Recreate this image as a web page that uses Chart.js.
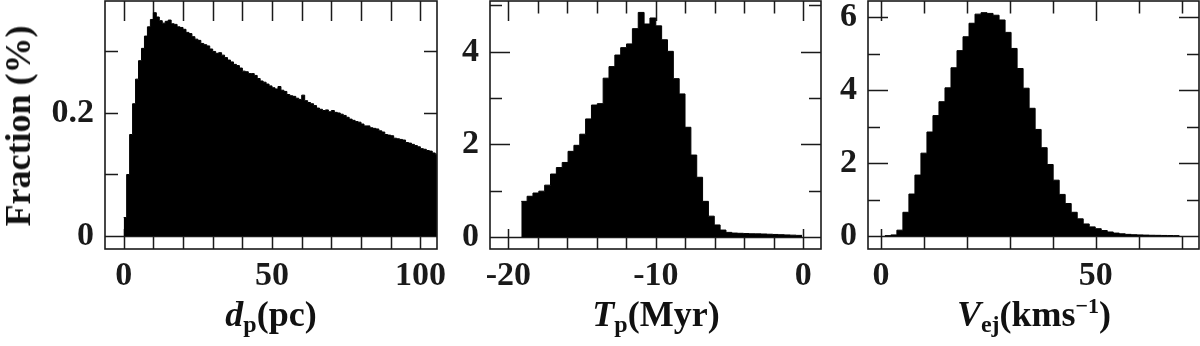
<!DOCTYPE html>
<html>
<head>
<meta charset="utf-8">
<title>Fraction histograms</title>
<script src="https://cdn.jsdelivr.net/npm/chart.js@4.4.0/dist/chart.umd.min.js"></script>
<style>
    html, body { margin: 0; padding: 0; background: #fff; }
    #wrap { position: relative; width: 1200px; height: 346px; overflow: hidden; }
    #wrap canvas { position: absolute; left: 0; top: 0; }
    .lbl {
        position: absolute;
        font-family: 'Liberation Serif', 'Times New Roman', serif;
        font-weight: bold;
        font-size: 36px;
        line-height: 36px;
        white-space: nowrap;
        color: #111;
    }
    .xl { top: 296px; transform: translateX(-50%); }
    .sub { font-size: 24px; position: relative; top: 6px; }
    .sup { font-size: 22px; position: relative; top: -13px; }
</style>
</head>
<body>
<div id="wrap">
    <canvas id="c1" width="1200" height="346"></canvas>
    <canvas id="c2" width="1200" height="346"></canvas>
    <canvas id="c3" width="1200" height="346"></canvas>
    <div class="lbl" id="ylab" style="left:18px;top:126px;transform:translate(-50%,-50%) rotate(-90deg);">Fraction (%)</div>
    <div class="lbl xl" style="left:271px;"><i>d</i><span class="sub">p</span>(pc)</div>
    <div class="lbl xl" style="left:656px;"><i>T</i><span class="sub">p</span>(Myr)</div>
    <div class="lbl xl" style="left:1034px;"><i>V</i><span class="sub">ej</span>(kms<span class="sup">&minus;1</span>)</div>
</div>
<script>
// ---- data ----

// panel 1: distance d_p, 1 pc bins starting at 0
const dpBinStart = 0;
const dpBinWidth = 1;
const dpFraction = [
    0.030, 0.100, 0.165, 0.215, 0.255, 0.285, 0.305, 0.325, 0.340, 0.352,
    0.363, 0.356, 0.350, 0.346, 0.349, 0.351, 0.345, 0.344, 0.340, 0.339,
    0.336, 0.331, 0.329, 0.324, 0.320, 0.318, 0.313, 0.311, 0.309, 0.304,
    0.300, 0.297, 0.298, 0.294, 0.290, 0.286, 0.283, 0.279, 0.277, 0.273,
    0.268, 0.267, 0.264, 0.264, 0.261, 0.256, 0.252, 0.250, 0.247, 0.244,
    0.241, 0.239, 0.243, 0.237, 0.235, 0.230, 0.228, 0.227, 0.224, 0.222,
    0.229, 0.220, 0.217, 0.215, 0.212, 0.208, 0.206, 0.204, 0.205, 0.202,
    0.204, 0.201, 0.200, 0.198, 0.196, 0.193, 0.190, 0.188, 0.186, 0.185,
    0.182, 0.179, 0.179, 0.176, 0.175, 0.174, 0.171, 0.169, 0.165, 0.164,
    0.163, 0.159, 0.158, 0.157, 0.156, 0.152, 0.151, 0.149, 0.147, 0.145,
    0.142, 0.141, 0.139, 0.138, 0.135, 0.133
];
const dpTickLabels = [0, 50, 100];
const dpTicks = [0, 10, 20, 30, 40, 50, 60, 70, 80, 90, 100];
const dpYTickLabels = [0, 0.2];
const dpYTicks = [0, 0.1, 0.2, 0.3];

// panel 2: time T_p (Myr)
const tpBinStart = -19.12;
const tpBinWidth = 0.3965;
const tpFraction = [
    0.77, 0.88, 0.95, 0.99, 1.12, 1.36, 1.50, 1.61, 1.85, 1.98,
    2.22, 2.55, 2.85, 2.88, 3.43, 3.68, 3.93, 4.09, 4.17, 4.50,
    4.85, 4.60, 4.73, 4.56, 4.26, 4.01, 3.42, 3.09, 2.37, 1.77,
    1.29, 0.77, 0.45, 0.26, 0.15, 0.10, 0.085, 0.08, 0.075, 0.07,
    0.068, 0.065, 0.06, 0.055, 0.05, 0.045, 0.04, 0.035
];
const tpTickLabels = [-20, -10, 0];
const tpTicks = [-20, -18, -16, -14, -12, -10, -8, -6, -4, -2, 0];
const tpYTickLabels = [0, 2, 4];
const tpYTicks = [0, 1, 2, 3, 4, 5];

// panel 3: ejection velocity V_ej (km/s)
const vejBinStart = 0.9;
const vejBinWidth = 1.4;
const vejFraction = [
    0.01, 0.03, 0.16, 0.65, 1.15, 1.67, 2.27, 2.85, 3.30, 3.68,
    4.06, 4.61, 5.08, 5.46, 5.83, 6.08, 6.12, 6.10, 6.05, 5.92,
    5.58, 5.14, 4.59, 4.05, 3.50, 2.92, 2.42, 1.96, 1.53, 1.14,
    0.89, 0.65, 0.47, 0.33, 0.25, 0.20, 0.15, 0.11, 0.08, 0.06,
    0.045, 0.035, 0.03, 0.025, 0.02, 0.018, 0.015, 0.012, 0.01
];
const vejTickLabels = [0, 50];
const vejTicks = [0, 10, 20, 30, 40, 50, 60, 70];
const vejYTickLabels = [0, 2, 4, 6];
const vejYTicks = [0, 1, 2, 3, 4, 5, 6];

// ---- drawing ----

const INK = '#1a1a1a';
const tickFont = { family: "'Liberation Serif', 'Times New Roman', serif", size: 34, weight: 'bold' };

// turns bin values into step points (last value repeated at the closing edge)
function histPoints(start, width, values) {
    const pts = values.map((v, i) => ({ x: start + i * width, y: v }));
    pts.push({ x: start + values.length * width, y: values[values.length - 1] });
    return pts;
}

// inward ticks on all four sides, zero line, and the box frame
const frameTicks = {
    id: 'frameTicks',
    beforeDatasetsDraw(chart, args, opts) {
        const { ctx, chartArea: a, scales: { x, y } } = chart;
        ctx.save();
        ctx.strokeStyle = INK;
        ctx.lineWidth = 1.5;
        ctx.beginPath();
        opts.xTicks.forEach(v => {
            const px = Math.round(x.getPixelForValue(v)) + 0.5;
            const len = opts.xMajor.includes(v) ? opts.xMajorLen : opts.xMinorLen;
            ctx.moveTo(px, a.top); ctx.lineTo(px, a.top + len);
            ctx.moveTo(px, a.bottom); ctx.lineTo(px, a.bottom - len);
        });
        opts.yTicks.forEach(v => {
            const py = Math.round(y.getPixelForValue(v)) + 0.5;
            const len = opts.yMajor.includes(v) ? opts.yMajorLen : opts.yMinorLen;
            ctx.moveTo(a.left, py); ctx.lineTo(a.left + len, py);
            ctx.moveTo(a.right, py); ctx.lineTo(a.right - len, py);
        });
        const y0 = Math.round(y.getPixelForValue(0)) + 0.5;
        ctx.moveTo(a.left, y0); ctx.lineTo(a.right, y0);
        ctx.stroke();
        ctx.restore();
    },
    afterDatasetsDraw(chart) {
        const { ctx, chartArea: a } = chart;
        ctx.save();
        ctx.strokeStyle = INK;
        ctx.lineWidth = 1.6;
        ctx.strokeRect(a.left, a.top, a.right - a.left, a.bottom - a.top);
        ctx.restore();
    }
};

function makePanel(id, p) {
    return new Chart(document.getElementById(id), {
        type: 'line',
        data: {
            datasets: [{
                data: histPoints(p.binStart, p.binWidth, p.values),
                stepped: 'before',
                fill: 'origin',
                backgroundColor: '#000',
                borderColor: '#000',
                borderWidth: 1,
                pointRadius: 0,
                tension: 0
            }]
        },
        options: {
            responsive: false,
            animation: false,
            events: [],
            layout: {
                autoPadding: false,
                padding: { left: p.left - 100, right: 1200 - p.right, top: 1, bottom: 0 }
            },
            plugins: {
                legend: { display: false },
                tooltip: { enabled: false },
                frameTicks: {
                    xTicks: p.xTicks, xMajor: p.xLabels, xMajorLen: p.xMajorLen, xMinorLen: p.xMinorLen,
                    yTicks: p.yTicks, yMajor: p.yLabels, yMajorLen: p.yMajorLen, yMinorLen: p.yMinorLen
                }
            },
            scales: {
                x: {
                    type: 'linear',
                    min: p.xMin, max: p.xMax,
                    grid: { display: false, drawTicks: false },
                    border: { display: false },
                    ticks: {
                        font: tickFont, color: INK, padding: 7,
                        maxRotation: 0, autoSkip: false, includeBounds: false,
                        callback: v => String(v)
                    },
                    afterBuildTicks: s => { s.ticks = p.xLabels.map(v => ({ value: v })); },
                    afterFit: s => { s.height = 97; s.paddingLeft = 0; s.paddingRight = 0; }
                },
                y: {
                    type: 'linear',
                    min: p.yMin, max: p.yMax,
                    grid: { display: false, drawTicks: false },
                    border: { display: false },
                    ticks: {
                        font: tickFont, color: INK, padding: 11,
                        autoSkip: false, includeBounds: false,
                        callback: v => String(v)
                    },
                    afterBuildTicks: s => { s.ticks = p.yLabels.map(v => ({ value: v })); },
                    afterFit: s => { s.width = 100; s.paddingTop = 0; s.paddingBottom = 0; }
                }
            }
        },
        plugins: [frameTicks]
    });
}

makePanel('c1', {
    left: 105, right: 437,
    binStart: dpBinStart, binWidth: dpBinWidth, values: dpFraction,
    xMin: -6.3, xMax: 105.6, yMin: -0.0211, yMax: 0.382,
    xLabels: dpTickLabels, xTicks: dpTicks, xMajorLen: 20, xMinorLen: 20,
    yLabels: dpYTickLabels, yTicks: dpYTicks, yMajorLen: 13, yMinorLen: 13
});

makePanel('c2', {
    left: 490, right: 821,
    binStart: tpBinStart, binWidth: tpBinWidth, values: tpFraction,
    xMin: -21.24, xMax: 1.2, yMin: -0.259, yMax: 5.097,
    xLabels: tpTickLabels, xTicks: tpTicks, xMajorLen: 20, xMinorLen: 12.5,
    yLabels: tpYTickLabels, yTicks: tpYTicks, yMajorLen: 20, yMinorLen: 12
});

makePanel('c3', {
    left: 868, right: 1199,
    binStart: vejBinStart, binWidth: vejBinWidth, values: vejFraction,
    xMin: -3.03, xMax: 74.07, yMin: -0.356, yMax: 6.44,
    xLabels: vejTickLabels, xTicks: vejTicks, xMajorLen: 20, xMinorLen: 12.5,
    yLabels: vejYTickLabels, yTicks: vejYTicks, yMajorLen: 20, yMinorLen: 12
});
</script>
</body>
</html>
